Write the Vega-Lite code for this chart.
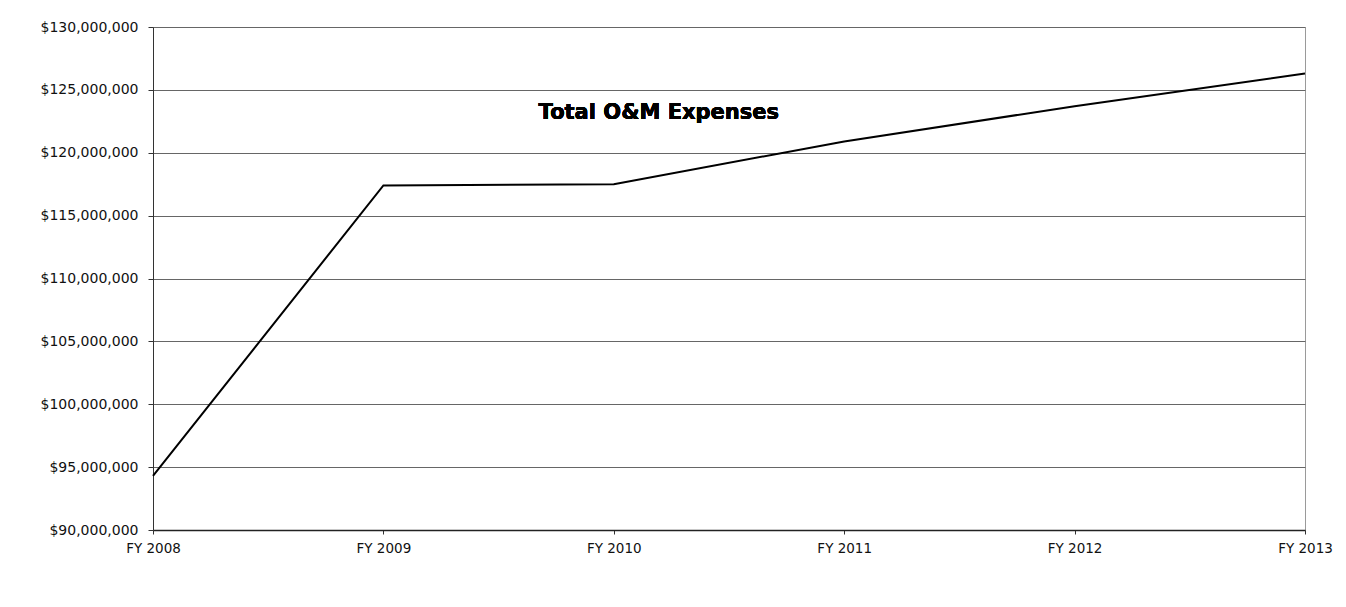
{
  "$schema": "https://vega.github.io/schema/vega-lite/v6.json",
  "autosize": {"type": "none"},
  "width": 1152,
  "height": 503,
  "padding": {"left": 153, "top": 27, "right": 41, "bottom": 77},
  "background": "white",
  "config": {
    "view": {"stroke": "#9a9a9a", "strokeWidth": 1},
    "font": "DejaVu Sans"
  },
  "data": {
    "values": [
      {"year": "FY 2008", "expenses": 94300000},
      {"year": "FY 2009", "expenses": 117400000},
      {"year": "FY 2010", "expenses": 117500000},
      {"year": "FY 2011", "expenses": 120900000},
      {"year": "FY 2012", "expenses": 123700000},
      {"year": "FY 2013", "expenses": 126300000}
    ]
  },
  "layer": [
    {
      "mark": {"type": "line", "color": "#000000", "strokeWidth": 2},
      "encoding": {
        "x": {
          "field": "year",
          "type": "ordinal",
          "scale": {"type": "point", "padding": 0},
          "axis": {
            "title": null,
            "labelAngle": 0,
            "labelFont": "DejaVu Sans",
            "labelFontSize": 13.5,
            "labelColor": "#111",
            "labelPadding": 7,
            "tickSize": 4,
            "tickColor": "#333",
            "domainColor": "#222",
            "domainWidth": 1.5,
            "grid": false
          }
        },
        "y": {
          "field": "expenses",
          "type": "quantitative",
          "scale": {"domain": [90000000, 130000000], "nice": false, "zero": false},
          "axis": {
            "title": null,
            "values": [90000000, 95000000, 100000000, 105000000, 110000000, 115000000, 120000000, 125000000, 130000000],
            "format": "$,.0f",
            "labelFont": "DejaVu Sans",
            "labelFontSize": 14,
            "labelColor": "#111",
            "labelPadding": 10,
            "tickSize": 5,
            "tickColor": "#333",
            "domainColor": "#333",
            "domainWidth": 1,
            "grid": true,
            "gridColor": "#666",
            "gridWidth": 1
          }
        }
      }
    },
    {
      "mark": {"type": "text", "text": "Total O&M Expenses", "font": "DejaVu Sans", "fontWeight": "bold", "fontSize": 21, "color": "#000", "align": "center", "baseline": "middle"},
      "encoding": {
        "x": {"datum": "FY 2010", "type": "ordinal"},
        "y": {"datum": 123200000, "type": "quantitative"},
        "xOffset": {"value": 45}
      }
    }
  ]
}
